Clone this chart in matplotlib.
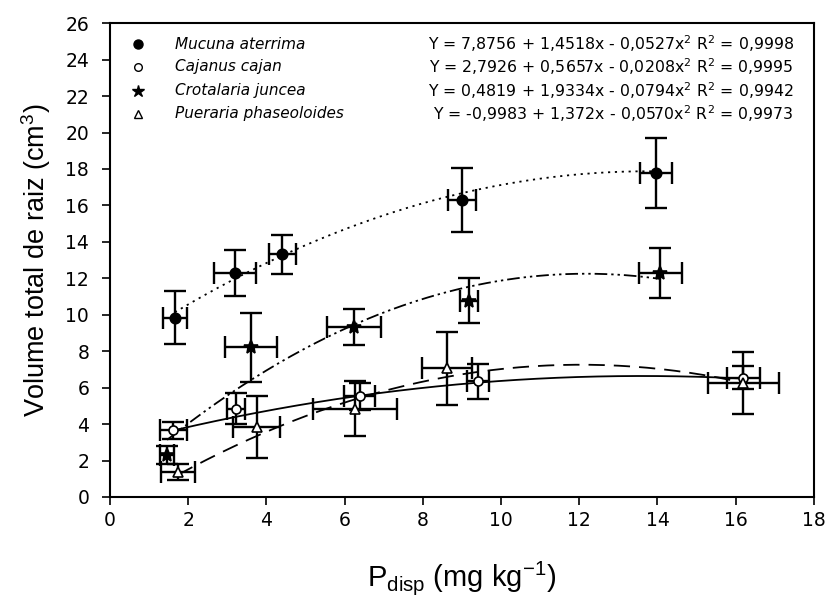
import numpy as np
import matplotlib
matplotlib.use("Agg")
import matplotlib.pyplot as plt

plt.rcParams['font.family'] = ['Liberation Sans', 'DejaVu Sans']
plt.rcParams['mathtext.default'] = 'regular'

# ---- data ----
series_names = ["Mucuna aterrima", "Cajanus cajan", "Crotalaria juncea", "Pueraria phaseoloides"]

muc_x = [1.66, 3.19, 4.41, 9.00, 13.96]
muc_y = [9.84, 12.31, 13.31, 16.30, 17.78]
muc_xerr = [0.30, 0.54, 0.34, 0.35, 0.41]
muc_yerr = [1.45, 1.27, 1.07, 1.77, 1.90]

caj_x = [1.62, 3.23, 6.38, 9.41, 16.20]
caj_y = [3.66, 4.83, 5.52, 6.36, 6.55]
caj_xerr = [0.34, 0.23, 0.40, 0.27, 0.42]
caj_yerr = [0.47, 0.85, 0.75, 0.96, 0.62]

crot_x = [1.46, 3.60, 6.23, 9.19, 14.07]
crot_y = [2.30, 8.21, 9.34, 10.77, 12.31]
crot_xerr = [0.17, 0.67, 0.69, 0.23, 0.55]
crot_yerr = [0.48, 1.90, 1.00, 1.23, 1.37]

pue_x = [1.74, 3.75, 6.27, 8.62, 16.20]
pue_y = [1.38, 3.84, 4.84, 7.07, 6.28]
pue_xerr = [0.44, 0.60, 1.07, 0.64, 0.90]
pue_yerr = [0.45, 1.70, 1.50, 2.00, 1.70]

# regression coefficients (b0, b1, b2) as printed on the chart
muc_coef = [7.8756, 1.4518, -0.0527]
caj_coef = [2.7926, 0.5657, -0.0208]
crot_coef = [0.4819, 1.9334, -0.0794]
pue_coef = [-0.9983, 1.372, -0.0570]

equations = [
    "Y = 7,8756 + 1,4518x - 0,0527x$^2$ R$^2$ = 0,9998",
    "Y = 2,7926 + 0,5657x - 0,0208x$^2$ R$^2$ = 0,9995",
    "Y = 0,4819 + 1,9334x - 0,0794x$^2$ R$^2$ = 0,9942",
    "Y = -0,9983 + 1,372x - 0,0570x$^2$ R$^2$ = 0,9973",
]

x_ticks = list(range(0, 19, 2))
y_ticks = list(range(0, 27, 2))

# ---- figure ----
fig = plt.figure(figsize=(8.31, 5.99), dpi=100)
ax = fig.add_axes([0.1324, 0.1703, 0.847, 0.791])

groups = [
    (muc_x, muc_y, muc_xerr, muc_yerr, muc_coef, 'o', 'black', (0, (1.2, 2.6)), 7.5),
    (caj_x, caj_y, caj_xerr, caj_yerr, caj_coef, 'o', 'white', '-', 6.5),
    (crot_x, crot_y, crot_xerr, crot_yerr, crot_coef, '*', 'black', (0, (7, 2.2, 1.3, 2.2, 1.3, 2.2)), 10),
    (pue_x, pue_y, pue_xerr, pue_yerr, pue_coef, '^', 'white', (0, (9, 5)), 7),
]

legend_rows = [0.956, 0.908, 0.857, 0.809]
for (xs, ys, xe, ye, coef, mk, fc, ls, ms), name, ry, eq in zip(groups, series_names, legend_rows, equations):
    xx = np.linspace(min(xs), max(xs), 200)
    yy = coef[0] + coef[1] * xx + coef[2] * xx ** 2
    ax.plot(xx, yy, color='black', lw=1.3, ls=ls, zorder=2)
    ax.errorbar(xs, ys, xerr=xe, yerr=ye, fmt='none', ecolor='black',
                elinewidth=1.7, capsize=8, capthick=1.7, zorder=3)
    ax.plot(xs, ys, ls='none', marker=mk, ms=ms, mfc=fc, mec='black', mew=1.2, zorder=4)
    # legend key + label + equation
    ax.plot([0.04], [ry], transform=ax.transAxes, ls='none', marker=mk, ms=ms - 1,
            mfc=fc, mec='black', mew=1.0, clip_on=False)
    ax.text(0.093, ry, name, transform=ax.transAxes, ha='left', va='center',
            fontsize=11, style='italic', family=['DejaVu Sans'])
    ax.text(0.9715, ry, eq, transform=ax.transAxes, ha='right', va='center',
            fontsize=11.3, family=['DejaVu Sans'])

ax.set_xlim(0, 18)
ax.set_ylim(0, 26)
ax.set_xticks(x_ticks)
ax.set_yticks(y_ticks)
ax.tick_params(axis='both', direction='out', length=6, width=1.2, labelsize=13.5,
               top=False, right=False)
ax.tick_params(axis='y', pad=9)
ax.tick_params(axis='x', pad=4)
for lab in ax.get_xticklabels() + ax.get_yticklabels():
    lab.set_family(['DejaVu Sans'])
for s in ax.spines.values():
    s.set_linewidth(1.5)

ax.set_ylabel("Volume total de raiz (cm$^3$)", fontsize=19.5, labelpad=9)
ax.set_xlabel("P$_{disp}$ (mg kg$^{-1}$)", fontsize=21, labelpad=21)

fig.savefig("out.png", dpi=100)
